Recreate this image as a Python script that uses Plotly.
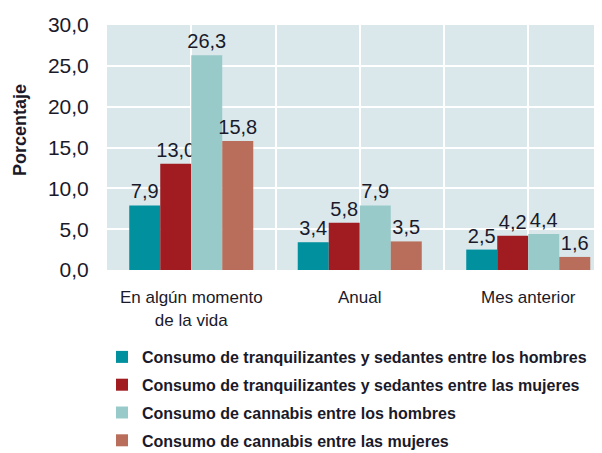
import plotly.graph_objects as go

categories = ["En algún momento<br>de la vida", "Anual", "Mes anterior"]
series_names = [
    "Consumo de tranquilizantes y sedantes entre los hombres",
    "Consumo de tranquilizantes y sedantes entre las mujeres",
    "Consumo de cannabis entre los hombres",
    "Consumo de cannabis entre las mujeres",
]
tranq_hombres = [7.9, 3.4, 2.5]
tranq_mujeres = [13.0, 5.8, 4.2]
cannabis_hombres = [26.3, 7.9, 4.4]
cannabis_mujeres = [15.8, 3.5, 1.6]
y_ticks = [0, 5, 10, 15, 20, 25, 30]

colors = ["#00909E", "#A01C20", "#99CACA", "#B86E5A"]
series_values = [tranq_hombres, tranq_mujeres, cannabis_hombres, cannabis_mujeres]

W, H = 602, 453
L, T, B = 99, 17, 191          # figure-space margins (page body offsets by 8px)
PW = W - L
PH = H - T - B

x_pos = list(range(len(categories)))
fig = go.Figure()
for i, (name, vals) in enumerate(zip(series_names, series_values)):
    fig.add_trace(go.Bar(
        x=x_pos, y=vals, name=name, marker_color=colors[i],
        marker_line_width=0,
        texttemplate="%{y:.1f}", textposition="outside",
        textfont=dict(size=20, color="#1a1a2a", family="Liberation Sans"),
        constraintext="none", cliponaxis=False,
        legendgroup=f"g{i}",
    ))

tickvals = []
ticktext = []
for k, c in enumerate(categories):
    tickvals += [k - 0.5, k]
    ticktext += ["", c]
tickvals.append(len(categories) - 0.5)
ticktext.append("")

fig.update_layout(
    width=W, height=H,
    margin=dict(l=L, r=0, t=T, b=B, autoexpand=False),
    paper_bgcolor="white", plot_bgcolor="#DAE8EC",
    barmode="group", bargap=0.264, bargroupgap=0,
    separators=",.",
    font=dict(family="Liberation Sans", color="#1a1a2a"),
    showlegend=True,
    legend=dict(
        x=(94 - L) / PW, y=1 - 332 / H, xref="paper", yref="container",
        xanchor="left", yanchor="top",
        font=dict(size=16, family="Liberation Sans", color="#1a1a2a", weight="bold"),
        tracegroupgap=4, itemwidth=30,
        bgcolor="rgba(0,0,0,0)",
    ),
    xaxis=dict(
        range=[-0.5, -0.5 + PW / 168.5], tickmode="array", tickvals=tickvals, ticktext=ticktext,
        showgrid=True, gridcolor="white", gridwidth=2, zeroline=False,
        tickfont=dict(size=17), ticks="outside", ticklen=12, tickcolor="rgba(0,0,0,0)",
    ),
    yaxis=dict(
        range=[0, 30], tickvals=y_ticks, tickformat=".1f",
        showgrid=True, gridcolor="white", gridwidth=2, zeroline=False,
        tickfont=dict(size=21), ticks="outside", ticklen=13, tickcolor="rgba(0,0,0,0)",
    ),
    annotations=[dict(
        text="<b>Porcentaje</b>", xref="paper", yref="paper",
        x=(12 - L) / PW, y=(T + PH - 122) / PH, textangle=-90, showarrow=False,
        font=dict(size=18, color="#1a1a2a"), xanchor="center", yanchor="middle",
    )],
)

fig.write_html("out.html")
